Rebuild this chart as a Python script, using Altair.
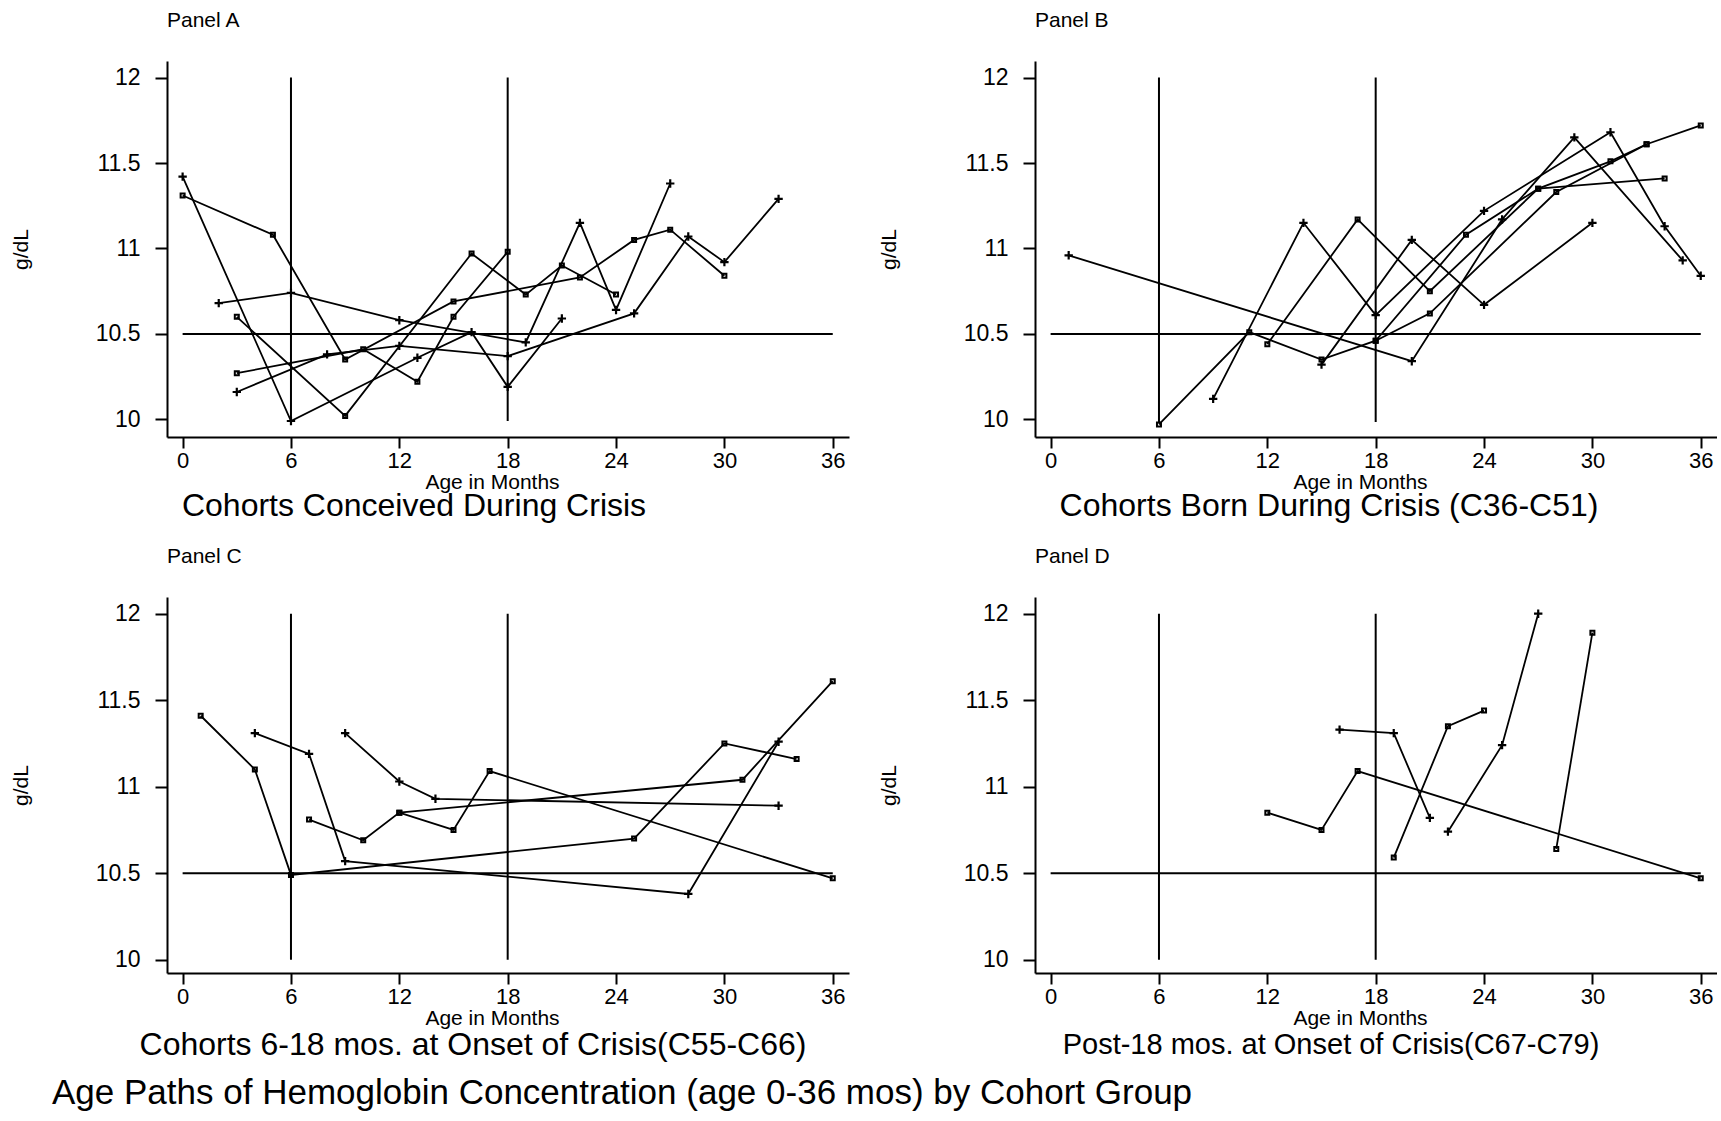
import altair as alt
import pandas as pd

# ---------------- data (months, g/dL) ----------------
# Panel A: Cohorts conceived during crisis
A1_m = [2, 6, 12, 19, 22, 24, 27]
A1_v = [10.68, 10.74, 10.58, 10.45, 11.15, 10.64, 11.38]
A2_m = [0, 6, 13, 16, 18, 21]
A2_v = [11.42, 9.99, 10.36, 10.51, 10.19, 10.59]
A3_m = [0, 5, 9, 15, 22, 25, 27, 30]
A3_v = [11.31, 11.08, 10.35, 10.69, 10.83, 11.05, 11.11, 10.84]
A4_m = [3, 8, 12, 18, 25, 28, 30, 33]
A4_v = [10.16, 10.38, 10.43, 10.37, 10.62, 11.07, 10.92, 11.29]
A5_m = [3, 10, 13, 15, 18]
A5_v = [10.27, 10.41, 10.22, 10.60, 10.98]
A6_m = [3, 9, 16, 19, 21, 24]
A6_v = [10.60, 10.02, 10.97, 10.73, 10.90, 10.73]

# Panel B: Cohorts born during crisis (C36-C51)
B1_m = [1, 20, 25, 29, 35]
B1_v = [10.96, 10.34, 11.17, 11.65, 10.93]
B2_m = [9, 14, 18, 24, 31, 34, 36]
B2_v = [10.12, 11.15, 10.61, 11.22, 11.68, 11.13, 10.84]
B3_m = [6, 11, 15, 18, 23, 27, 34]
B3_v = [9.97, 10.51, 10.35, 10.46, 11.08, 11.35, 11.41]
B4_m = [12, 17, 21, 27, 31, 33, 36]
B4_v = [10.44, 11.17, 10.75, 11.35, 11.51, 11.61, 11.72]
B5_m = [15, 20, 24, 30]
B5_v = [10.32, 11.05, 10.67, 11.15]
B6_m = [18, 21, 28, 33]
B6_v = [10.46, 10.62, 11.33, 11.61]

# Panel C: Cohorts 6-18 mos. at onset (C55-C66)
C1_m = [1, 4, 6, 25, 30, 34]
C1_v = [11.41, 11.10, 10.49, 10.70, 11.25, 11.16]
C2_m = [4, 7, 9, 28, 33]
C2_v = [11.31, 11.19, 10.57, 10.38, 11.26]
C3_m = [7, 10, 12, 31, 36]
C3_v = [10.81, 10.69, 10.85, 11.04, 11.61]
C4_m = [12, 15, 17, 36]
C4_v = [10.85, 10.75, 11.09, 10.47]
C5_m = [9, 12, 14, 33]
C5_v = [11.31, 11.03, 10.93, 10.89]

# Panel D: Post-18 mos. at onset (C67-C79)
D1_m = [12, 15, 17, 36]
D1_v = [10.85, 10.75, 11.09, 10.47]
D2_m = [16, 19, 21]
D2_v = [11.33, 11.31, 10.82]
D3_m = [19, 22, 24]
D3_v = [10.59, 11.35, 11.44]
D4_m = [22, 25, 27]
D4_v = [10.74, 11.24, 12.00]
D5_m = [28, 30]
D5_v = [10.64, 11.89]

SERIES = {
    "A": [("A1", A1_m, A1_v, "plus"), ("A2", A2_m, A2_v, "plus"), ("A3", A3_m, A3_v, "square"),
          ("A4", A4_m, A4_v, "plus"), ("A5", A5_m, A5_v, "square"), ("A6", A6_m, A6_v, "square")],
    "B": [("B1", B1_m, B1_v, "plus"), ("B2", B2_m, B2_v, "plus"), ("B3", B3_m, B3_v, "square"),
          ("B4", B4_m, B4_v, "square"), ("B5", B5_m, B5_v, "plus"), ("B6", B6_m, B6_v, "square")],
    "C": [("C1", C1_m, C1_v, "square"), ("C2", C2_m, C2_v, "plus"), ("C3", C3_m, C3_v, "square"),
          ("C4", C4_m, C4_v, "square"), ("C5", C5_m, C5_v, "plus")],
    "D": [("D1", D1_m, D1_v, "square"), ("D2", D2_m, D2_v, "plus"), ("D3", D3_m, D3_v, "square"),
          ("D4", D4_m, D4_v, "plus"), ("D5", D5_m, D5_v, "square")],
}

PANEL_LABELS = {"A": "Panel A", "B": "Panel B", "C": "Panel C", "D": "Panel D"}
SUBTITLES = {
    "A": "Cohorts Conceived During Crisis",
    "B": "Cohorts Born During Crisis (C36-C51)",
    "C": "Cohorts 6-18 mos. at Onset of Crisis(C55-C66)",
    "D": "Post-18 mos. at Onset of Crisis(C67-C79)",
}
MAIN_TITLE = "Age Paths of Hemoglobin Concentration (age 0-36 mos) by Cohort Group"
X_TICKS = [0, 6, 12, 18, 24, 30, 36]
Y_TICKS = [10, 10.5, 11, 11.5, 12]
VLINES = [6, 18]
HLINE = 10.5
HLINE_SPAN = [0, 36]

# ---------------- layout / style ----------------
FONT = "Liberation Sans"
W, H = 682, 376
XDOM = [-0.865, 36.9]
YDOM = {"A": [9.8965, 12.097], "B": [9.8965, 12.097], "C": [9.923, 12.0965], "D": [9.923, 12.0965]}
VLINE_LOW = {"A": 9.99, "B": 9.985, "C": 10.0, "D": 10.0}
SUB_POS = {"A": (247, 445), "B": (294, 445), "C": (306, 448), "D": (296, 448)}
SUB_SIZE = {"A": 32, "B": 32, "C": 32, "D": 29}
PLUS_PATH = "M-1,0L1,0M0,-1L0,1"


def panel(key):
    rows = []
    for name, ms, vs, mk in SERIES[key]:
        for i, (m, v) in enumerate(zip(ms, vs)):
            rows.append({"series": name, "idx": i, "month": m, "value": v, "marker": mk})
    df = pd.DataFrame(rows)

    xs = alt.Scale(domain=XDOM, nice=False, zero=False)
    ys = alt.Scale(domain=YDOM[key], nice=False, zero=False)
    xax = alt.Axis(values=X_TICKS, title="Age in Months", grid=False, tickSize=11, tickWidth=2,
                   domainWidth=2, domainColor="black", tickColor="black", labelColor="black",
                   labelFont=FONT, labelFontSize=22, labelPadding=2, labelFlush=False,
                   titleFont=FONT, titleFontSize=21, titleFontWeight="normal", titleColor="black",
                   titleX=325, titleY=45, titleBaseline="middle", titleAlign="center")
    yax = alt.Axis(values=Y_TICKS, format="~g", title="g/dL", grid=False, tickSize=12, tickWidth=2,
                   domainWidth=2, domainColor="black", tickColor="black", labelColor="black",
                   labelFont=FONT, labelFontSize=23, labelPadding=15, labelFlush=False,
                   titleFont=FONT, titleFontSize=21, titleFontWeight="normal", titleColor="black",
                   titleX=-146, titleY=H / 2, titleAngle=-90, titleBaseline="middle", titleAlign="center")
    X = alt.X("month:Q", scale=xs, axis=xax)
    Y = alt.Y("value:Q", scale=ys, axis=yax)

    hdf = pd.DataFrame({"month": [HLINE_SPAN[0]], "month2": [HLINE_SPAN[1]], "value": [HLINE]})
    vdf = pd.DataFrame({"month": VLINES, "value": [VLINE_LOW[key]] * len(VLINES),
                        "value2": [YDOM[key][1] - 0.097] * len(VLINES)})

    hrule = alt.Chart(hdf).mark_rule(color="black", strokeWidth=2).encode(x=X, x2="month2:Q", y=Y)
    vrule = alt.Chart(vdf).mark_rule(color="black", strokeWidth=2).encode(x=X, y=Y, y2="value2:Q")
    lines = alt.Chart(df).mark_line(color="black", strokeWidth=1.8).encode(
        x=X, y=Y, detail="series:N", order="idx:Q")
    squares = alt.Chart(df).transform_filter(alt.datum.marker == "square").mark_point(
        shape="square", size=16, filled=False, color="black", strokeWidth=2, opacity=1).encode(x=X, y=Y)
    pluses = alt.Chart(df).transform_filter(alt.datum.marker == "plus").mark_point(
        shape=PLUS_PATH, size=70, filled=False, color="black", strokeWidth=2.2, opacity=1).encode(x=X, y=Y)

    lab = alt.Chart(pd.DataFrame({"t": [PANEL_LABELS[key]]})).mark_text(
        font=FONT, fontSize=21, align="left", baseline="middle", color="black").encode(
        text="t:N", x=alt.value(0), y=alt.value(-40))
    sx, sy = SUB_POS[key]
    sub = alt.Chart(pd.DataFrame({"t": [SUBTITLES[key]]})).mark_text(
        font=FONT, fontSize=SUB_SIZE[key], align="center", baseline="middle", color="black").encode(
        text="t:N", x=alt.value(sx), y=alt.value(sy))
    layers = [hrule, vrule, lines, squares, pluses, lab, sub]
    if key == "C":
        main = alt.Chart(pd.DataFrame({"t": [MAIN_TITLE]})).mark_text(
            font=FONT, fontSize=35, align="left", baseline="middle", color="black").encode(
            text="t:N", x=alt.value(-115), y=alt.value(496))
        layers.append(main)
    return alt.layer(*layers).properties(width=W, height=H)


chart = alt.concat(panel("A"), panel("B"), panel("C"), panel("D"), columns=2,
                   spacing={"row": 160, "column": 186}, bounds="flush").properties(
    padding={"left": 10, "top": 10, "right": 0, "bottom": 0},
    background="white",
).configure_view(stroke=None)

chart.save("out.html", embed_options={"renderer": "svg", "actions": False})
